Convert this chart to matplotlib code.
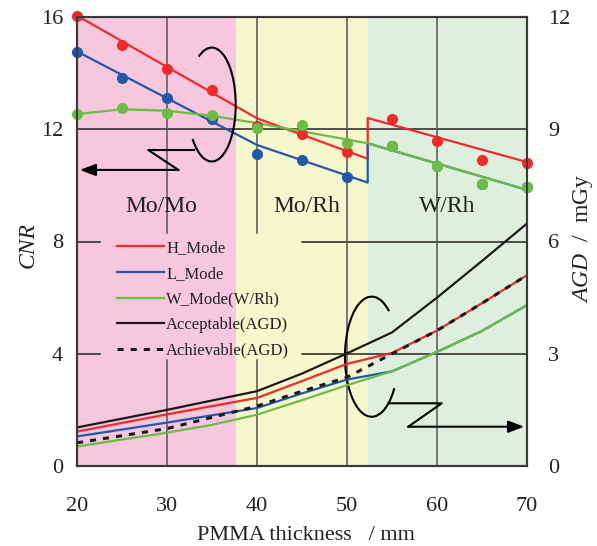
import matplotlib
matplotlib.use('Agg')
import matplotlib.pyplot as plt
from matplotlib.patches import Arc

plt.rcParams['font.family'] = ['Liberation Serif', 'DejaVu Serif']
plt.rcParams['mathtext.fontset'] = 'custom'
plt.rcParams['mathtext.rm'] = 'Liberation Serif'
plt.rcParams['mathtext.it'] = 'Liberation Serif:italic'

# ---------------- data ----------------
thickness = [20, 25, 30, 35, 40, 45, 50, 55, 60, 65, 70]
cnr_h = [16.05, 15.0, 14.15, 13.4, 12.1, 11.83, 11.19, 12.37, 11.58, 10.9, 10.8]
cnr_l = [14.77, 13.82, 13.1, 12.37, 11.12, 10.9, 10.31, 11.42, 10.7, 10.05, 9.95]
cnr_w = [12.54, 12.75, 12.57, 12.51, 12.03, 12.15, 11.5, 11.42, 10.7, 10.05, 9.95]

fit_h_x = [20, 40, 52.3, 52.3, 70]
fit_h_y = [16.05, 12.39, 10.95, 12.4, 10.83]
fit_l_x = [20, 40, 52.3, 52.3, 70]
fit_l_y = [14.77, 11.44, 10.1, 11.5, 9.84]
fit_w_x = [20, 25, 30, 35, 40, 52.3, 70]
fit_w_y = [12.54, 12.71, 12.66, 12.48, 12.22, 11.5, 9.84]

agd_x = [20, 30, 40, 45, 50, 55, 60, 65, 70]
agd_acceptable = [1.03, 1.5, 2.0, 2.47, 3.01, 3.57, 4.5, 5.48, 6.48]
agd_achievable = [0.62, 1.0, 1.6, 2.0, 2.37, 3.0, 3.62, 4.35, 5.1]
agd_h = [0.92, 1.38, 1.82, 2.27, 2.73, 3.02, 3.62, 4.35, 5.1]
agd_l = [0.79, 1.16, 1.55, 1.94, 2.31, 2.53, 3.05, 3.61, 4.3]
agd_w_x = [20, 30, 35, 40, 45, 50, 55, 60, 65, 70]
agd_w = [0.52, 0.89, 1.1, 1.37, 1.76, 2.16, 2.53, 3.05, 3.61, 4.3]

region_names = ['Mo/Mo', 'Mo/Rh', 'W/Rh']
region_edges = [20, 37.7, 52.3, 70]
region_colors = ['#F6C7DD', '#F7F7CD', '#DFEFDD']

series_labels = ['H_Mode', 'L_Mode', 'W_Mode(W/Rh)', 'Acceptable(AGD)', 'Achievable(AGD)']
RED, BLUE, GREEN, BLACK = '#EE2B2B', '#2457A8', '#6CBD45', '#1A1A1A'

# ---------------- figure ----------------
fig = plt.figure(figsize=(5.97, 5.46), dpi=100)
ax = fig.add_axes([77/597, 1-466/546, 450/597, 449/546])
ax2 = ax.twinx()

ax.set_xlim(20, 70)
ax.set_ylim(0, 16)
ax2.set_ylim(0, 12)
ax.set_xticks([20, 30, 40, 50, 60, 70])
ax.set_yticks([0, 4, 8, 12, 16])
ax2.set_yticks([0, 3, 6, 9, 12])

for i, name in enumerate(region_names):
    ax.axvspan(region_edges[i], region_edges[i+1], color=region_colors[i], zorder=0, lw=0)

# grid lines (hidden where the legend sits)
lx0, lx1, ly0, ly1 = 0.051, 0.5, 0.236, 0.519
gkw = dict(lw=1.1, zorder=1)
ax.axhline(12, color='#222222', **gkw)
for yv in [4, 8]:
    ax.axhline(yv, xmin=0, xmax=lx0, color='#222222', **gkw)
    ax.axhline(yv, xmin=lx1, xmax=1, color='#222222', **gkw)
for xv in [30, 40]:
    ax.axvline(xv, ymin=0, ymax=ly0, color='#555555', **gkw)
    ax.axvline(xv, ymin=ly1, ymax=1, color='#555555', **gkw)
for xv in [50, 60]:
    ax.axvline(xv, color='#555555', **gkw)

# region labels
for name, xl in zip(region_names, [29.4, 45.5, 61.1]):
    ax.text(xl, 9.24, name, ha='center', va='center', fontsize=17, color='#222222', zorder=3)

# CNR fitted lines and points
ax.plot(fit_h_x, fit_h_y, color=RED, lw=1.6, zorder=4)
ax.plot(fit_l_x, fit_l_y, color=BLUE, lw=1.6, zorder=4)
ax.plot(fit_w_x, fit_w_y, color=GREEN, lw=1.6, zorder=4)
mk = dict(marker='o', ls='none', ms=7, clip_on=False, zorder=5)
ax.plot(thickness, cnr_h, color=RED, **mk)
ax.plot(thickness, cnr_l, color=BLUE, **mk)
ax.plot(thickness, cnr_w, color=GREEN, **mk)

# annotations: ellipses with Z-arrows
akw = dict(color='black', lw=1.5, zorder=6)
ax.add_patch(Arc((34.97, 12.88), 5.33, 4.06, theta1=210, theta2=490, color='black', lw=1.5, zorder=6))
ax.plot([33.0, 27.92, 31.26], [11.26, 11.26, 10.55], **akw)
ax.annotate('', xy=(20.3, 10.55), xytext=(31.26, 10.55),
            arrowprops=dict(arrowstyle='-|>,head_length=0.8,head_width=0.3', mutation_scale=12,
                            color='black', lw=1.5, shrinkA=0, shrinkB=0), zorder=6)
ax.add_patch(Arc((52.74, 3.895), 5.93, 4.28, theta1=40, theta2=336, color='black', lw=1.5, zorder=6))
ax.plot([54.6, 60.52, 56.81], [2.235, 2.235, 1.40], **akw)
ax.annotate('', xy=(69.7, 1.40), xytext=(56.81, 1.40),
            arrowprops=dict(arrowstyle='-|>,head_length=0.8,head_width=0.3', mutation_scale=12,
                            color='black', lw=1.5, shrinkA=0, shrinkB=0), zorder=6)

# AGD lines on right axis
h1, = ax2.plot(agd_x, agd_h, color=RED, lw=1.6, label=series_labels[0])
h2, = ax2.plot(agd_x, agd_l, color=BLUE, lw=1.6, label=series_labels[1])
h3, = ax2.plot(agd_w_x, agd_w, color=GREEN, lw=1.6, label=series_labels[2])
h4, = ax2.plot(agd_x, agd_acceptable, color=BLACK, lw=1.6, label=series_labels[3])
h5, = ax2.plot(agd_x, agd_achievable, color=BLACK, lw=2.2, ls=(0, (2.0, 2.3)), label=series_labels[4])

leg = ax2.legend(handles=[h1, h2, h3, h4, h5], loc='upper left', bbox_to_anchor=(0.089, 0.503),
                 frameon=False, fontsize=12, handlelength=2.8, handletextpad=0.15,
                 labelspacing=0.58, borderpad=0, borderaxespad=0)
for t in leg.get_texts():
    t.set_color('#222222')

# spines & ticks
for a in (ax, ax2):
    for s in a.spines.values():
        s.set_color('#3A3A3A')
        s.set_linewidth(1.5)
ax.tick_params(axis='both', length=0, labelsize=16, colors='#222222')
ax.tick_params(axis='x', pad=22)
ax.tick_params(axis='y', pad=10)
ax2.tick_params(axis='y', length=0, labelsize=16, colors='#222222', pad=15)

fig.text(28/597, 1-245/546, 'CNR', rotation=90, ha='center', va='center', fontsize=17,
         fontstyle='italic', color='#222222')
fig.text(583/597, 1-238/546, r'$\mathit{AGD}$  /  mGy', rotation=90, ha='center', va='center',
         fontsize=17, color='#222222')
fig.text(306/597, 1-535/546, 'PMMA thickness   / mm', ha='center', va='center', fontsize=16,
         color='#222222')

fig.savefig('out.png', dpi=100)
